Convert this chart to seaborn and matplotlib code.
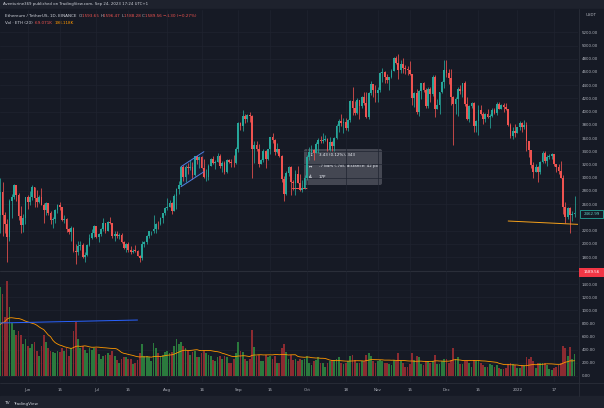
import matplotlib
matplotlib.use('Agg')
import matplotlib.pyplot as plt
from matplotlib.patches import Rectangle, FancyBboxPatch, Polygon
import seaborn as sns
import numpy as np
import pandas as pd

# ETH/USDT daily candles, 2021-05-20 .. 2022-01-26
dates = pd.date_range('2021-05-20', '2022-01-26', freq='D')

opens = [2429, 2781, 2431, 2296, 2109, 2643, 2706, 2888, 2737, 2418, 2280, 2386,
         2706, 2634, 2707, 2856, 2688, 2630, 2712, 2592, 2517, 2611, 2472, 2354, 2372, 2509, 2591, 2553, 2364, 2373, 2229, 2176, 2245, 1893, 1874, 1970, 1989, 1808, 1829, 1982, 2085, 2166,
         2274, 2108, 2150, 2226, 2322, 2197, 2324, 2317, 2115, 2147, 2112, 2140, 2032, 1940, 1994, 1913, 1873, 1898, 1894, 1820, 1787, 1993, 2025, 2123, 2188, 2190, 2228, 2300, 2298, 2385, 2462,
         2536, 2562, 2610, 2504, 2724, 2827, 2890, 3158, 3012, 3163, 3141, 3164, 3046, 3322, 3266, 3309, 3148, 3012, 3017, 3182, 3285, 3226, 3243, 3325, 3172, 3228, 3094, 3268, 3244, 3226, 3224,
         3433, 3834, 3790, 3940, 3887, 3952, 3927, 3429, 3493, 3428, 3206, 3266, 3410, 3284, 3429, 3613, 3566, 3395, 3433, 3330, 2980, 2760, 3076, 3155, 2930, 2925, 3063, 2926, 2807, 2849,
         3000, 3307, 3391, 3418, 3380, 3517, 3577, 3561, 3570, 3585, 3416, 3543, 3487, 3604, 3786, 3865, 3829, 3846, 3746, 3875, 4155, 4055, 3972, 4169, 4082, 4218, 4131, 3922, 4286, 4415, 4321,
         4288, 4324, 4589, 4603, 4530, 4475, 4517, 4610, 4807, 4730, 4630, 4720, 4662, 4648, 4625, 4568, 4213, 4288, 3995, 4305, 4440, 4321, 4088, 4340, 4270, 4525, 4040, 4098, 4297, 4445,
         4632, 4586, 4511, 4220, 4117, 4198, 4347, 4307, 4432, 4110, 3893, 4084, 4133, 3786, 3862, 4020, 3962, 3882, 3958, 3921, 3941, 4020, 3978, 4108, 4047, 4093, 4066, 4037, 3793, 3628, 3713,
         3682, 3769, 3829, 3761, 3795, 3550, 3416, 3194, 3090, 3157, 3082, 3239, 3372, 3251, 3311, 3331, 3355, 3212, 3164, 3096, 3001, 2561, 2406, 2537, 2441, 2458]

highs = [2993, 2939, 2480, 2381, 2680, 2750, 2912, 2891, 2762, 2570, 2445, 2715,
         2740, 2800, 2891, 2858, 2817, 2743, 2845, 2620, 2640, 2619, 2490, 2410, 2520, 2600, 2630, 2563, 2436, 2388, 2240, 2270, 2250, 2000, 2046, 2045, 2016, 1880, 1990, 2150, 2230, 2285,
         2275, 2160, 2240, 2390, 2322, 2350, 2410, 2320, 2190, 2200, 2160, 2170, 2040, 2015, 2030, 1960, 1915, 1975, 1905, 1828, 2045, 2043, 2130, 2200, 2200, 2430, 2320, 2345, 2400, 2468, 2555,
         2700, 2665, 2630, 2760, 2840, 2950, 3180, 3185, 3185, 3230, 3275, 3240, 3330, 3330, 3330, 3330, 3290, 3130, 3200, 3300, 3325, 3270, 3370, 3360, 3250, 3250, 3280, 3290, 3285, 3350, 3470,
         3840, 3840, 4025, 3970, 3970, 3990, 3950, 3550, 3560, 3510, 3290, 3440, 3420, 3440, 3615, 3680, 3580, 3530, 3440, 3340, 3030, 3100, 3180, 3170, 2970, 3115, 3170, 3060, 2960, 3035,
         3340, 3470, 3490, 3430, 3545, 3595, 3630, 3670, 3640, 3605, 3610, 3550, 3615, 3820, 3890, 3970, 3900, 3900, 3890, 4170, 4375, 4160, 4200, 4175, 4240, 4295, 4300, 4300, 4460, 4425, 4400,
         4380, 4600, 4665, 4620, 4570, 4530, 4640, 4825, 4840, 4868, 4780, 4805, 4700, 4685, 4770, 4568, 4300, 4345, 4320, 4440, 4450, 4350, 4375, 4370, 4555, 4550, 4190, 4300, 4460, 4780,
         4780, 4640, 4650, 4235, 4225, 4375, 4410, 4440, 4460, 4220, 4100, 4140, 4150, 3880, 4100, 4105, 4000, 3985, 4040, 3970, 4060, 4050, 4140, 4150, 4120, 4130, 4125, 4040, 3830, 3765, 3810,
         3770, 3860, 3850, 3880, 3845, 3550, 3420, 3245, 3210, 3170, 3250, 3410, 3400, 3340, 3365, 3380, 3360, 3215, 3200, 3260, 3040, 2635, 2555, 2550, 2500, 2724]

lows = [2160, 2113, 2170, 1729, 2050, 2395, 2680, 2650, 2355, 2170, 2180, 2305,
        2525, 2580, 2656, 2560, 2558, 2615, 2580, 2320, 2430, 2436, 2305, 2240, 2310, 2470, 2505, 2340, 2310, 2180, 2145, 2040, 1880, 1700, 1838, 1900, 1793, 1720, 1810, 1960, 2070, 2100,
        2090, 2020, 2115, 2200, 2160, 2190, 2300, 2085, 2050, 2085, 2080, 2010, 1920, 1880, 1880, 1850, 1855, 1880, 1810, 1718, 1760, 1955, 1995, 2090, 2130, 2170, 2160, 2230, 2280, 2320, 2440,
        2510, 2550, 2450, 2490, 2530, 2750, 2880, 2950, 2940, 3060, 3120, 2985, 3030, 3200, 3150, 3140, 3000, 2950, 2970, 3170, 3200, 3125, 3240, 3150, 3090, 3060, 3070, 3220, 3160, 3160, 3200,
        3390, 3720, 3710, 3830, 3850, 3840, 3000, 3230, 3400, 3160, 3200, 3240, 3140, 3270, 3360, 3530, 3350, 3380, 3310, 2930, 2650, 2740, 3030, 2740, 2815, 2740, 2915, 2800, 2790, 2835,
        2970, 3270, 3370, 3270, 3370, 3380, 3530, 3530, 3550, 3410, 3400, 3400, 3400, 3590, 3690, 3780, 3680, 3720, 3700, 3850, 3950, 3950, 3960, 3895, 4060, 4100, 3900, 3890, 4250, 4220, 4150,
        4150, 4300, 4450, 4440, 4430, 4330, 4510, 4610, 4720, 4500, 4580, 4580, 4565, 4550, 4550, 4100, 4065, 3960, 3940, 4190, 4300, 4060, 4050, 4150, 4240, 3920, 4040, 3960, 4280, 4350,
        4530, 4425, 4100, 3500, 3960, 3930, 4270, 4220, 4080, 3880, 3850, 4050, 3690, 3690, 3640, 3950, 3820, 3840, 3900, 3750, 3920, 3960, 3950, 4040, 4040, 3990, 4020, 3780, 3600, 3590, 3620,
        3680, 3720, 3695, 3730, 3400, 3320, 3140, 3000, 3080, 2930, 3060, 3220, 3225, 3180, 3280, 3280, 3180, 3090, 3050, 2990, 2450, 2320, 2380, 2160, 2350, 2410]

closes = [2781, 2431, 2296, 2109, 2643, 2706, 2888, 2737, 2418, 2280, 2386, 2706,
          2634, 2707, 2856, 2688, 2630, 2712, 2592, 2517, 2611, 2472, 2354, 2372, 2509, 2591, 2553, 2364, 2373, 2229, 2176, 2245, 1893, 1874, 1970, 1989, 1808, 1829, 1982, 2085, 2166, 2274,
          2108, 2150, 2226, 2322, 2197, 2324, 2317, 2115, 2147, 2112, 2140, 2032, 1940, 1994, 1913, 1873, 1898, 1894, 1820, 1787, 1993, 2025, 2123, 2188, 2190, 2228, 2300, 2298, 2385, 2462, 2536,
          2562, 2610, 2504, 2724, 2827, 2890, 3158, 3012, 3163, 3141, 3164, 3046, 3322, 3266, 3309, 3148, 3012, 3017, 3182, 3285, 3226, 3243, 3325, 3172, 3228, 3094, 3268, 3244, 3226, 3224, 3433,
          3834, 3790, 3940, 3887, 3952, 3927, 3429, 3493, 3428, 3206, 3266, 3410, 3284, 3429, 3613, 3566, 3395, 3433, 3330, 2980, 2760, 3076, 3155, 2930, 2925, 3063, 2926, 2807, 2849, 3000,
          3307, 3391, 3418, 3380, 3517, 3577, 3561, 3570, 3585, 3416, 3543, 3487, 3604, 3786, 3865, 3829, 3846, 3746, 3875, 4155, 4055, 3972, 4169, 4082, 4218, 4131, 3922, 4286, 4415, 4321, 4288,
          4324, 4589, 4603, 4530, 4475, 4517, 4610, 4807, 4730, 4630, 4720, 4662, 4648, 4625, 4568, 4213, 4288, 3995, 4305, 4440, 4321, 4088, 4340, 4270, 4525, 4040, 4098, 4297, 4445, 4632,
          4586, 4511, 4220, 4117, 4198, 4347, 4307, 4432, 4110, 3893, 4084, 4133, 3786, 3862, 4020, 3962, 3882, 3958, 3921, 3941, 4020, 3978, 4108, 4047, 4093, 4066, 4037, 3793, 3628, 3713, 3682,
          3769, 3829, 3761, 3795, 3550, 3416, 3194, 3090, 3157, 3082, 3239, 3372, 3251, 3311, 3331, 3355, 3212, 3164, 3096, 3001, 2561, 2406, 2537, 2441, 2458, 2463]

volumes = [1350, 1250, 900, 1450, 1050, 800, 700, 620, 680, 620, 480, 560,
           450, 420, 480, 520, 380, 300, 460, 620, 520, 420, 380, 360, 340, 380, 360, 420, 380, 420, 300, 420, 680, 820, 560, 420, 460, 400, 340, 420, 400, 430,
           430, 330, 260, 300, 320, 340, 320, 380, 300, 240, 200, 260, 280, 280, 260, 260, 180, 200, 240, 340, 480, 300, 300, 280, 220, 500, 420, 340, 300, 320, 360,
           380, 340, 360, 460, 560, 480, 520, 460, 420, 380, 320, 360, 380, 280, 280, 340, 380, 340, 320, 300, 240, 220, 280, 300, 260, 300, 280, 200, 200, 260, 340,
           520, 380, 360, 260, 220, 260, 700, 440, 300, 320, 220, 220, 320, 280, 300, 260, 300, 200, 200, 420, 480, 360, 260, 320, 240, 260, 220, 260, 240, 260,
           300, 200, 160, 220, 240, 280, 200, 200, 140, 200, 220, 240, 240, 260, 280, 200, 180, 200, 220, 300, 320, 240, 200, 200, 220, 220, 320, 340, 300, 220, 200,
           220, 240, 220, 200, 200, 180, 160, 240, 220, 340, 220, 200, 140, 140, 180, 340, 240, 300, 280, 180, 160, 220, 220, 200, 220, 320, 180, 180, 220, 260,
           260, 200, 240, 420, 260, 280, 180, 180, 220, 220, 200, 140, 240, 220, 240, 200, 160, 140, 140, 180, 160, 140, 160, 120, 100, 100, 120, 180, 200, 180, 160,
           120, 120, 160, 170, 280, 260, 280, 220, 120, 200, 200, 200, 200, 160, 100, 90, 120, 140, 160, 200, 450, 420, 300, 440, 250, 330]

# volume of the 19 days before the first visible bar (feeds the MA only)
volumes_before = [700, 650, 620, 680, 760, 800, 720, 700, 820, 760, 900, 680, 640,
                  700, 720, 760, 820, 900, 980]

price_ticks = [1800, 2000, 2200, 2600, 2800, 3000, 3200, 3400, 3600, 3800, 4000,
               4200, 4400, 4600, 4800, 5000, 5200]
vol_ticks = [0, 200, 400, 600, 800, 1000, 1200, 1400]
date_ticks = ['2021-06-01', '2021-06-15', '2021-07-01', '2021-07-15', '2021-08-01',
              '2021-08-16', '2021-09-01', '2021-09-15', '2021-10-01', '2021-10-18',
              '2021-11-01', '2021-11-15', '2021-12-01', '2021-12-15', '2022-01-01',
              '2022-01-17']
date_labels = ['Jun', '15', 'Jul', '15', 'Aug', '16', 'Sep', '15', 'Oct', '18',
               'Nov', '15', 'Dec', '15', '2022', '17']

# drawings (date, price / volume)
channel_top = [('2021-08-07', 3167), ('2021-08-17', 3394)]
channel_bot = [('2021-08-07', 2864), ('2021-08-17', 3090)]
support_line = [('2021-12-28', 2345), ('2022-01-29', 2292)]
vol_line = [('2021-05-20', 805), ('2021-07-19', 850)]

BG = '#161a25'
FRAME = '#1e222d'
GRID = '#1f2430'
TXT = '#b2b5be'
UP = '#26a69a'
DN = '#ef5350'

sns.set_theme(style='dark')
plt.rcParams['font.family'] = ['DejaVu Sans']

W, H = 604, 408
fig = plt.figure(figsize=(W / 100, H / 100), dpi=100)
fig.patch.set_facecolor(FRAME)


def px_axes(x0, y0, x1, y1):
    return fig.add_axes([x0 / W, 1 - y1 / H, (x1 - x0) / W, (y1 - y0) / H])


bg = px_axes(0, 0, W, H)
bg.set_xlim(0, W)
bg.set_ylim(H, 0)
bg.axis('off')
bg.add_patch(Rectangle((0, 9), W, 387, color=BG, zorder=0))

base = pd.Timestamp('2021-06-01')


def day(d):
    return (pd.Timestamp(d) - base).days


x = np.asarray((dates - base).days, dtype=float)
o = np.array(opens, float)
h = np.array(highs, float)
l = np.array(lows, float)
c = np.array(closes, float)
v = np.array(volumes, float)
up = c >= o
cols = np.where(up, UP, DN)

PXD = 2.288
X0 = -27.7 / PXD
X1 = (578 - 27.7) / PXD
PPX = 0.0661

pax = px_axes(0, 10, 578, 270)
vax = px_axes(0, 271, 578, 382)
for a in (pax, vax):
    a.set_facecolor('none')
    for s in a.spines.values():
        s.set_visible(False)
    a.set_xlim(X0, X1)
    a.set_xticks([day(d) for d in date_ticks])
    a.grid(True, color=GRID, lw=0.5)
    a.yaxis.tick_right()
    a.tick_params(axis='y', length=0, pad=2.4, labelsize=2.9, labelcolor=TXT)
    a.set_axisbelow(True)

pax.set_ylim(5200 - (270 - 32.3) / PPX, 5200 + (32.3 - 10) / PPX)
pax.set_yticks(price_ticks)
pax.set_yticklabels([f'{t:.2f}' for t in price_ticks])
pax.tick_params(axis='x', length=0, labelbottom=False)

vax.set_ylim(-(382 - 375.7) / 13.1 * 200, (375.7 - 271) / 13.1 * 200)
vax.set_yticks(vol_ticks)
vax.set_yticklabels([f'{t:.2f}' for t in vol_ticks])
vax.set_xticklabels(date_labels)
vax.tick_params(axis='x', length=0, pad=4.6, labelsize=2.9, labelcolor=TXT)

# candles
pax.vlines(x, l, h, colors=cols, lw=0.55, zorder=2)
body = np.maximum(np.abs(c - o), 6)
pax.bar(x, body, bottom=np.minimum(o, c), width=0.78, color=cols, lw=0, zorder=3)

# volume + MA(20)
vcols = np.where(up, '#2b7a3d', '#8c2b31')
vax.bar(x, v, width=0.78, color=vcols, lw=0, zorder=2)
ma = pd.Series(volumes_before + volumes, dtype=float).rolling(20).mean().values[len(volumes_before):]
sns.lineplot(x=x, y=ma, ax=vax, color='#ff9800', lw=0.6, zorder=4)
vax.set_ylabel('')

# drawings
ct = [(day(d), p) for d, p in channel_top]
cb = [(day(d), p) for d, p in channel_bot]
pax.plot(*zip(*ct), color='#4f7fe0', lw=0.7, zorder=5)
pax.plot(*zip(*cb), color='#4f7fe0', lw=0.7, zorder=5)
pax.add_patch(Polygon([ct[0], ct[1], cb[1], cb[0]], closed=True,
                      color='#2962ff', alpha=0.08, lw=0, zorder=1))
sl = [(day(d), p) for d, p in support_line]
pax.plot(*zip(*sl), color='#f7a21b', lw=0.7, zorder=5)
vl = [(day(d), p) for d, p in vol_line]
vax.plot(*zip(*vl), color='#2962ff', lw=0.7, zorder=5)

# frame lines
bg.plot([0, W], [270.5, 270.5], color='#2a2e39', lw=0.8)
bg.plot([0, W], [382.5, 382.5], color='#2a2e39', lw=0.6)
bg.plot([578.5, 578.5], [9, 396], color='#2a2e39', lw=0.6)
bg.add_patch(Rectangle((0, 396), W, 12, color=FRAME, zorder=0))

# measure tooltip
bg.add_patch(FancyBboxPatch((304, 149), 78, 36, boxstyle='round,pad=0,rounding_size=2',
                            fc='#4a4d58', ec='none', alpha=0.9, zorder=6))
bg.plot([292, 307], [188, 188], color=DN, lw=0.7, zorder=6)
for yy, s in [(155.5, '3.43 (0.12%), 343'), (166, '-7 bars (-7d), distance: 42 px'),
              (176.5, '17P')]:
    bg.text(319, yy, s, color='#f0f3fa', fontsize=2.9, va='center', zorder=7)
for yy, s in [(155.5, '↕'), (166, '↔'), (176.5, '◭')]:
    bg.text(311, yy, s, color='#f0f3fa', fontsize=2.9, va='center', ha='center', zorder=7)

# right-scale labels
bg.add_patch(Rectangle((579.5, 210), 23.5, 8, fc=BG, ec=UP, lw=0.6, zorder=6))
bg.text(591.5, 214, '2462.99', color='#5fd0c2', fontsize=2.9, ha='center', va='center', zorder=7)
bg.add_patch(Rectangle((579, 268), 25, 8.5, fc='#f23645', ec='none', zorder=6))
bg.text(591.5, 272.3, '1589.56', color='white', fontsize=2.9, ha='center', va='center', zorder=7)
bg.text(591, 15.5, 'USDT', color=TXT, fontsize=2.9, ha='center', va='center')

renderer = fig.canvas.get_renderer()


def chain(parts, xx, yy, size=2.95):
    for s, col in parts:
        t = bg.text(xx, yy, s, color=col, fontsize=size, va='center', ha='left')
        xx += t.get_window_extent(renderer).width


chain([('Aventurine369 published on TradingView.com, Sep 24, 2023 17:24 UTC+1', '#d1d4dc')], 3, 4.5, 2.8)
chain([('Ethereum / TetherUS, 1D, BINANCE  ', '#d1d4dc'), ('O', TXT), ('1593.65 ', DN),
       ('H', TXT), ('1596.47 ', DN), ('L', TXT), ('1588.28 ', DN), ('C', TXT),
       ('1589.56 ', DN), ('\u22124.30 (\u22120.27%)', DN)], 5, 15.7)
chain([('Vol \u00b7 ETH (20)  ', '#d1d4dc'), ('69.071K  ', DN), ('198.118K', '#ff9800')], 5, 22.5)
chain([('TV ', '#d1d4dc')], 4, 403.5, 3.2)
chain([('TradingView', '#d1d4dc')], 13, 403.5, 3.0)

fig.savefig('out.png', dpi=100, facecolor=fig.get_facecolor())
